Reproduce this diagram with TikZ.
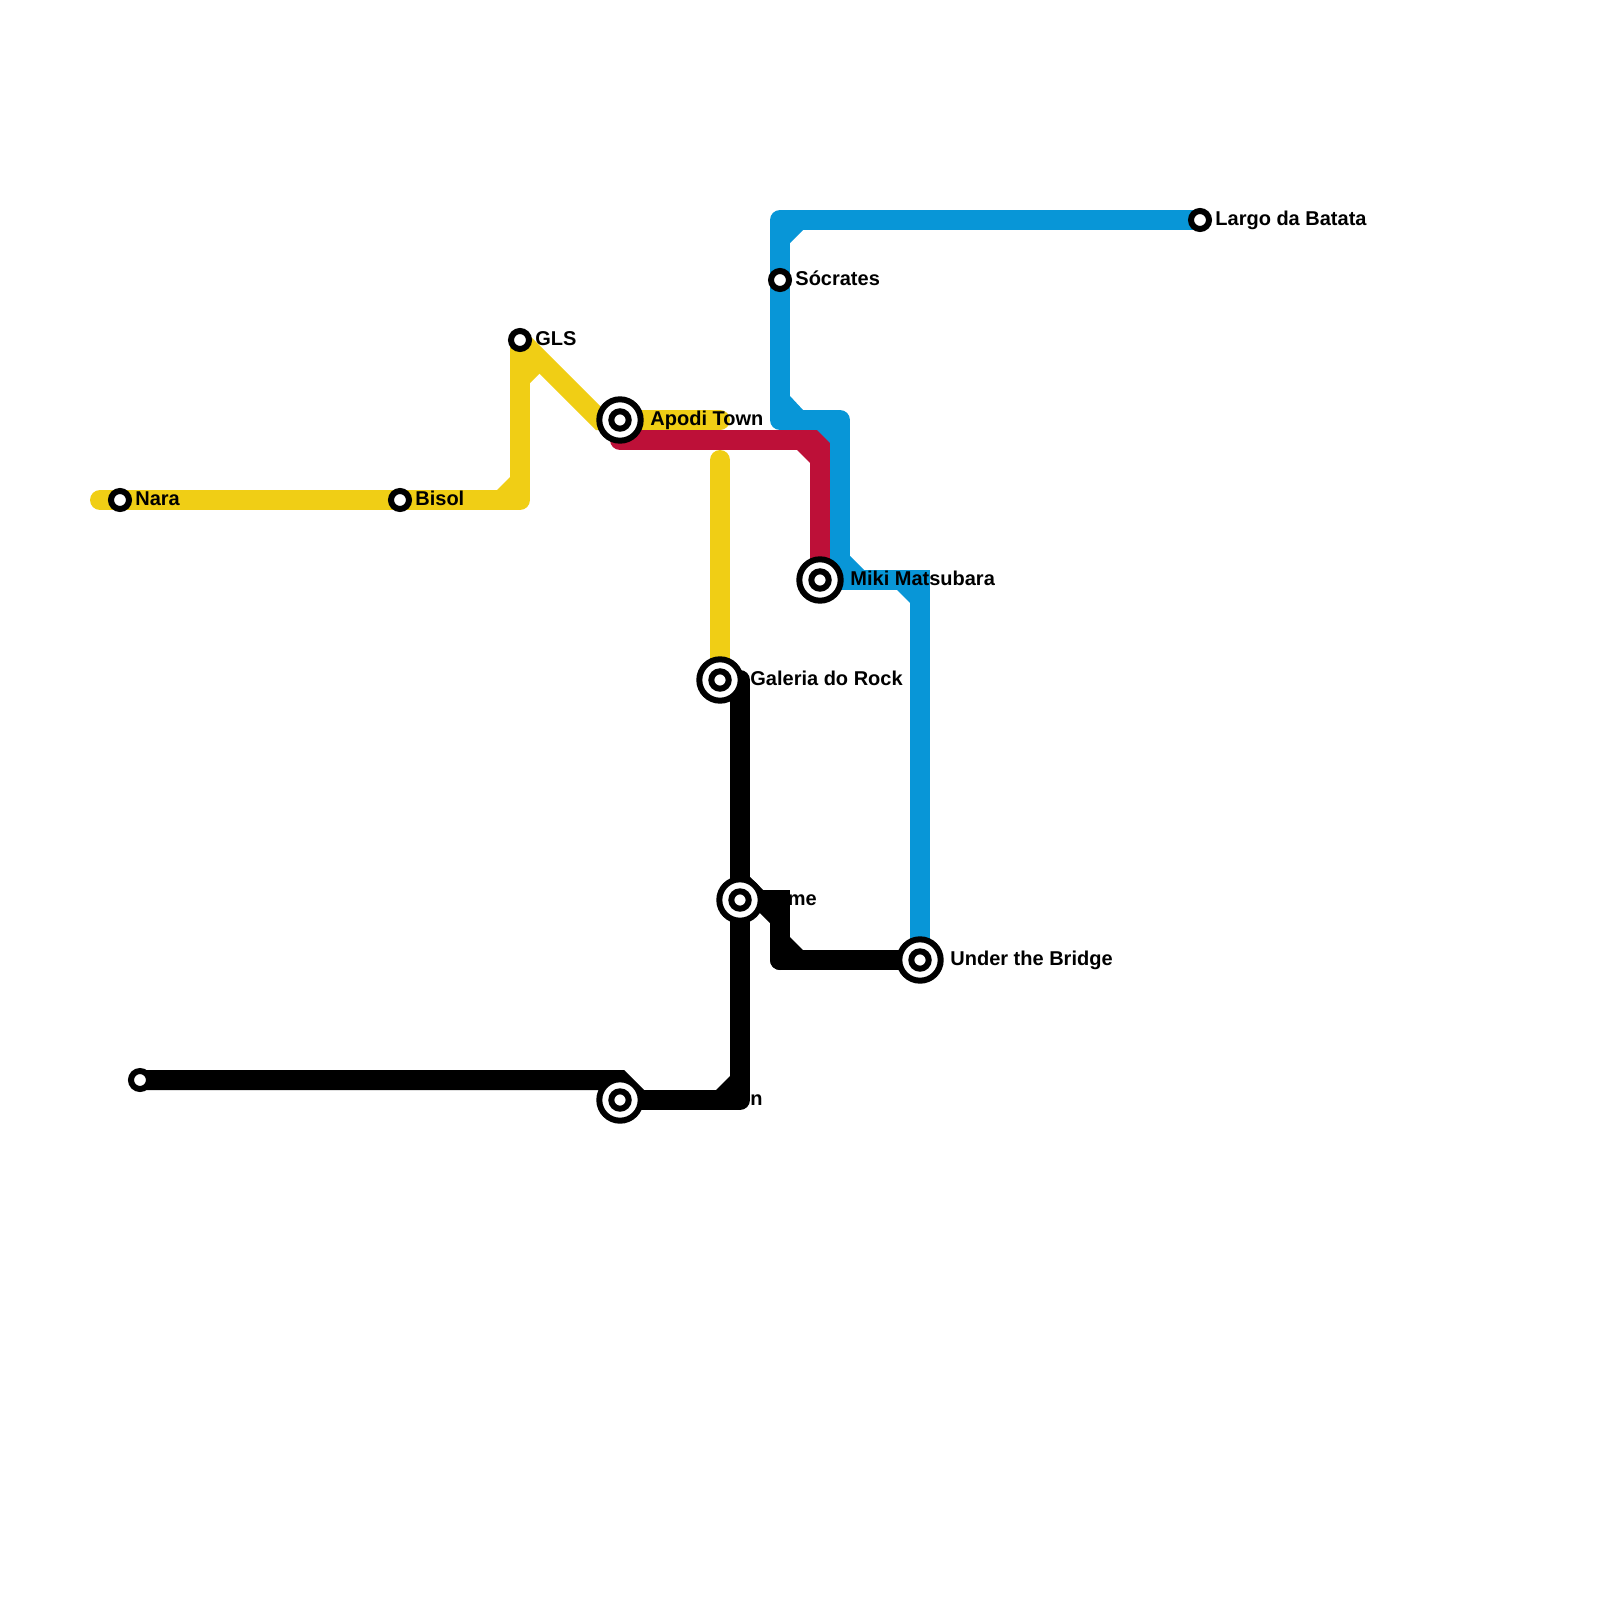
\documentclass[tikz,border=0pt]{standalone}
\usepackage{fontspec}
\setmainfont{Liberation Sans}
\pgfdeclarelayer{lines}
\pgfsetlayers{lines,main}
\definecolor{lineY}{HTML}{F0CE15}
\definecolor{lineR}{HTML}{BD1038}
\definecolor{lineB}{HTML}{0896D7}
\definecolor{lineK}{HTML}{000000}
\tikzset{
  metro/.style={line width=10pt,line cap=round,line join=round},
  metrosharp/.style={line width=10pt,line cap=round,line join=miter},
  stop/.style={circle,draw=black,fill=white,line width=3pt,inner sep=0pt,minimum size=9pt},
  hubdot/.style={circle,draw=black,fill=white,line width=3pt,inner sep=0pt,minimum size=8.7pt},
  hub/.style={circle,draw=black,fill=white,line width=3pt,inner sep=0pt,minimum size=20.7pt},
  lab/.style={anchor=base west,inner sep=0pt,font=\bfseries\fontsize{10}{12}\selectfont,text=black}
}
\begin{document}
\begin{tikzpicture}[x=0.5pt,y=-0.5pt]
\useasboundingbox (0,0) rectangle (1600,1600);
% free ends and bends
\coordinate (yStart) at (100,500);
\coordinate (yBend) at (520,500);
\coordinate (yDiag) at (600,420);
\coordinate (yEnd) at (720,420);
\coordinate (yTop) at (720,460);
\coordinate (rStart) at (620,440);
\coordinate (rBend) at (820,440);
\coordinate (bA) at (780,220);
\coordinate (bB) at (780,420);
\coordinate (bC) at (840,420);
\coordinate (bD) at (840,580);
\coordinate (bE) at (920,580);
\coordinate (kA) at (740,680);
\coordinate (kB) at (740,1100);
\coordinate (kC) at (780,900);
\coordinate (kD) at (780,960);
\coordinate (kE) at (620,1080);
\coordinate (kF) at (640,1100);
% stations
\node[stop] (nara) at (120,500) {};
\node[stop] (bisol) at (400,500) {};
\node[stop] (gls) at (520,340) {};
\node[stop] (socrates) at (780,280) {};
\node[stop] (largo) at (1200,220) {};
\node[stop] (west) at (140,1080) {};
\node[hub] (apodi) at (620,420) {};
\node[hubdot] at (apodi.center) {};
\node[hub] (miki) at (820,580) {};
\node[hubdot] at (miki.center) {};
\node[hub] (galeria) at (720,680) {};
\node[hubdot] at (galeria.center) {};
\node[hub] (time) at (740,900) {};
\node[hubdot] at (time.center) {};
\node[hub] (under) at (920,960) {};
\node[hubdot] at (under.center) {};
\node[hub] (town) at (620,1100) {};
\node[hubdot] at (town.center) {};
% labels
\node[lab] (lNara) at (135,505) {Nara};
\node[lab] (lBisol) at (415,505) {Bisol};
\node[lab] (lGLS) at (535,345) {GLS};
\node[lab] (lSoc) at (795,285) {Sócrates};
\node[lab] (lLargo) at (1215,225) {Largo da Batata};
\node[lab] (lApodi) at (650,425) {Apodi Town};
\node[lab] (lMiki) at (850,585) {Miki Matsubara};
\node[lab] (lGal) at (750,685) {Galeria do Rock};
\node[lab] (lTime) at (770,905) {Time};
\node[lab] (lUnder) at (950,965) {Under the Bridge};
\node[lab] (lTown) at (750,1105) {n};
\begin{pgfonlayer}{lines}
% yellow
\draw[metro,lineY] (yStart) -- (nara.center) -- (bisol.center) -- (yBend) -- (gls.center);
\draw[metrosharp,lineY] (gls.center) -- (yDiag) -- (apodi.center) -- (yEnd);
\draw[metro,lineY] (yTop) -- (galeria.center);
\fill[lineY] (497,490) -- (510,490) -- (510,477) -- cycle;
\fill[lineY] (530,355) -- (530,383) -- (540,373) -- (540,355) -- cycle;
% red
\draw[metrosharp,lineR] (rStart) -- (rBend) -- (miki.center);
\fill[lineR] (797,450) -- (810,450) -- (810,463) -- cycle;
% blue
\draw[metro,lineB] (largo.center) -- (bA) -- (socrates.center) -- (bB) -- (bC) -- (bD);
\draw[metrosharp,lineB] (miki.center) -- (bE) -- (under.center);
\fill[lineB] (803,230) -- (790,230) -- (790,243) -- cycle;
\fill[lineB] (790,396) -- (790,410) -- (803,410) -- cycle;
\fill[lineB] (817,430) -- (830,430) -- (830,443) -- cycle;
\fill[lineB] (850,556) -- (850,570) -- (864,570) -- cycle;
\fill[lineB] (897,590) -- (910,590) -- (910,603) -- cycle;
% black
\draw[metro,lineK] (galeria.center) -- (kA) -- (kB) -- (town.center);
\draw[metrosharp,lineK] (west.center) -- (kE) -- (kF);
\draw[metrosharp,lineK] (time.center) -- (kC) -- (kD);
\draw[metro,lineK] (kC) -- (kD) -- (under.center);
\fill[lineK] (716,1090) -- (730,1090) -- (730,1076) -- cycle;
\fill[lineK] (750,877) -- (750,890) -- (763,890) -- cycle;
\fill[lineK] (757,910) -- (770,910) -- (770,923) -- cycle;
\fill[lineK] (790,937) -- (790,950) -- (803,950) -- cycle;
\end{pgfonlayer}
\end{tikzpicture}
\end{document}
